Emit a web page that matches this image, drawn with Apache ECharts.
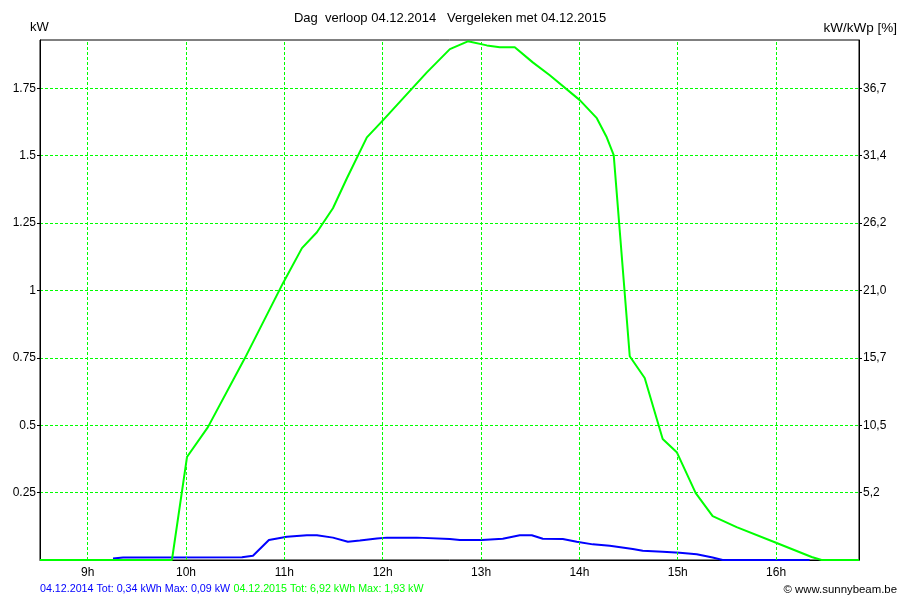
<!DOCTYPE html>
<html>
<head>
<meta charset="utf-8">
<script src="https://cdn.jsdelivr.net/npm/echarts@6/dist/echarts.min.js"></script>
<style>
html,body{margin:0;padding:0;background:#fff;}
#c{width:900px;height:600px;}
</style>
</head>
<body>
<div id="c"></div>
<script>
// Hours of day (decimal) and kW values
var hourTicks = [9, 10, 11, 12, 13, 14, 15, 16];
var kwTicks = [0.25, 0.5, 0.75, 1, 1.25, 1.5, 1.75];
var kWp = 4.77;
var xMin = 8.5155, xMax = 16.843, yMax = 1.929;

var times2015 = [8.5155, 9.857, 10.010, 10.223, 10.599, 10.986, 11.179, 11.331, 11.494, 11.636, 11.839, 12.002, 12.449, 12.683, 12.866, 13.059, 13.191, 13.343, 13.526, 13.699, 14.004, 14.177, 14.278, 14.349, 14.512, 14.664, 14.847, 14.990, 15.183, 15.355, 15.599, 16.006, 16.362, 16.463, 16.843];
var kw2015 = [0, 0, 0.382, 0.493, 0.749, 1.027, 1.157, 1.216, 1.305, 1.416, 1.568, 1.631, 1.809, 1.895, 1.924, 1.909, 1.902, 1.902, 1.846, 1.798, 1.706, 1.639, 1.568, 1.502, 0.756, 0.675, 0.449, 0.400, 0.248, 0.163, 0.122, 0.063, 0.011, 0, 0];

var times2014 = [9.258, 9.360, 10.569, 10.681, 10.843, 11.026, 11.229, 11.331, 11.494, 11.646, 11.768, 11.941, 12.042, 12.347, 12.683, 12.784, 13.008, 13.221, 13.394, 13.516, 13.628, 13.831, 13.973, 14.136, 14.309, 14.543, 14.644, 14.847, 15.020, 15.193, 15.355, 15.457, 16.341];
var kw2014 = [0.006, 0.009, 0.010, 0.016, 0.074, 0.086, 0.092, 0.092, 0.083, 0.068, 0.072, 0.080, 0.083, 0.083, 0.078, 0.074, 0.074, 0.079, 0.092, 0.092, 0.079, 0.078, 0.068, 0.058, 0.053, 0.041, 0.034, 0.031, 0.027, 0.021, 0.009, 0, 0];

var titleText = 'Dag  verloop 04.12.2014   Vergeleken met 04.12.2015';
var legend2014 = '04.12.2014 Tot: 0,34 kWh Max: 0,09 kW';
var legend2015 = '04.12.2015 Tot: 6,92 kWh Max: 1,93 kW';

var FONT = '"Liberation Sans", Arial, sans-serif';
var gridGreen = '#00ff00';
var dash = [3, 2];

function pairs(t, v) { return t.map(function (x, i) { return [x, v[i]]; }); }
function isTick(v) { return kwTicks.some(function (k) { return Math.abs(k - v) < 1e-6; }); }

var chart = echarts.init(document.getElementById('c'), null, { renderer: 'canvas' });
chart.setOption({
  animation: false,
  backgroundColor: '#fff',
  textStyle: { fontFamily: FONT },
  grid: { left: 40, right: 41, top: 40, bottom: 40, show: true, borderColor: '#000', borderWidth: 1, backgroundColor: 'transparent' },
  xAxis: {
    type: 'value', min: xMin, max: xMax,
    axisLine: { show: true, lineStyle: { color: '#000', width: 1 } },
    axisTick: { show: false, customValues: hourTicks },
    axisLabel: { customValues: hourTicks, formatter: function (v) { return v + 'h'; }, color: '#000', fontSize: 12, fontFamily: FONT, margin: 7 },
    splitLine: { show: false }
  },
  yAxis: [{
    type: 'value', min: 0, max: yMax, interval: 0.25,
    axisLine: { show: true, lineStyle: { color: '#000' } },
    axisTick: { show: true, length: 3, lineStyle: { color: '#000' } },
    axisLabel: { color: '#000', fontSize: 12, fontFamily: FONT, margin: 4, showMinLabel: false, showMaxLabel: false,
      formatter: function (v) { return (v > 0 && isTick(v)) ? String(v) : ''; } },
    splitLine: { show: true, showMinLine: false, showMaxLine: false, lineStyle: { color: gridGreen, type: dash, width: 1 } }
  }, {
    type: 'value', min: 0, max: yMax, interval: 0.25, position: 'right',
    axisLine: { show: true, lineStyle: { color: '#000' } },
    axisTick: { show: true, length: 3, lineStyle: { color: '#000' } },
    axisLabel: { color: '#000', fontSize: 12, fontFamily: FONT, margin: 4, showMinLabel: false, showMaxLabel: false,
      formatter: function (v) { return (v > 0 && isTick(v)) ? (v / kWp * 100).toFixed(1).replace('.', ',') : ''; } },
    splitLine: { show: false }
  }],
  series: [{
    type: 'line', name: 'grid', data: [], z: 1, silent: true,
    markLine: {
      silent: true, symbol: 'none', animation: false,
      label: { show: false },
      lineStyle: { color: gridGreen, type: dash, width: 1 },
      emphasis: { disabled: true },
      data: hourTicks.map(function (h) { return { xAxis: h }; })
    }
  }, {
    type: 'line', name: '04.12.2014', data: pairs(times2014, kw2014), showSymbol: false, z: 2,
    lineStyle: { color: '#0000ff', width: 2 }, itemStyle: { color: '#0000ff' }
  }, {
    type: 'line', name: '04.12.2015', data: pairs(times2015, kw2015), showSymbol: false, z: 3,
    lineStyle: { color: '#00ff00', width: 2 }, itemStyle: { color: '#00ff00' }
  }],
  graphic: [
    { type: 'text', left: 'center', top: 12, style: { text: titleText, font: '13px ' + FONT, fill: '#000' } },
    { type: 'text', left: 30, top: 21, style: { text: 'kW', font: '13px ' + FONT, fill: '#000' } },
    { type: 'text', right: 3, top: 21, style: { text: 'kW/kWp [%]', font: '13.5px ' + FONT, fill: '#000' } },
    { type: 'text', left: 40, top: 583, style: {
      text: '{a|' + legend2014 + '} {b|' + legend2015 + '}',
      rich: { a: { fill: '#0000ff', font: '10.7px ' + FONT }, b: { fill: '#00ff00', font: '10.7px ' + FONT } } } },
    { type: 'text', right: 3, top: 584, style: { text: '\u00a9 www.sunnybeam.be', font: '11.4px ' + FONT, fill: '#000' } }
  ]
});
</script>
</body>
</html>
